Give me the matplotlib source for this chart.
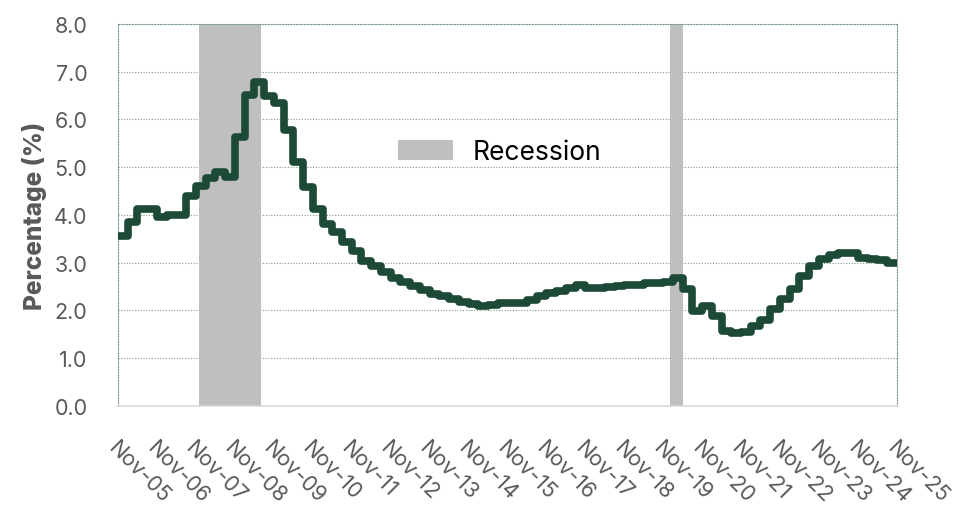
import numpy as np
import pandas as pd
import matplotlib
matplotlib.use('Agg')
import matplotlib.pyplot as plt
import matplotlib.dates as mdates
from matplotlib.patches import Patch

# Quarterly rate, Nov 2005 through Aug 2025 (each value holds for 3 months)
rate = [
    3.55, 3.85, 4.12, 4.12, 3.95, 3.99, 4.01, 4.40,   # Nov05 - Aug07
    4.60, 4.77, 4.89, 4.79, 5.63, 6.51, 6.78, 6.50,   # Nov07 - Aug09
    6.34, 5.78, 5.10, 4.58, 4.12, 3.81, 3.64, 3.43,   # Nov09 - Aug11
    3.25, 3.04, 2.93, 2.80, 2.69, 2.60, 2.51, 2.42,   # Nov11 - Aug13
    2.35, 2.30, 2.24, 2.18, 2.14, 2.10, 2.12, 2.15,   # Nov13 - Aug15
    2.16, 2.15, 2.22, 2.30, 2.37, 2.40, 2.47, 2.53,   # Nov15 - Aug17
    2.47, 2.48, 2.49, 2.51, 2.53, 2.54, 2.57, 2.58,   # Nov17 - Aug19
    2.60, 2.68, 2.45, 1.98, 2.09, 1.88, 1.58, 1.52,   # Nov19 - Aug21
    1.54, 1.67, 1.81, 2.03, 2.24, 2.45, 2.73, 2.94,   # Nov21 - Aug23
    3.08, 3.16, 3.21, 3.20, 3.09, 3.07, 3.05, 2.99,   # Nov23 - Aug25
]
quarter_edges = pd.date_range('2005-11-01', '2025-11-01', freq='3MS')

recession_start = ['2007-12-01', '2020-01-01']
recession_end = ['2009-07-01', '2020-04-30']

tick_dates = pd.date_range('2005-11-01', '2025-11-01', freq='12MS')

line_color = '#1d4a37'
text_gray = '#595959'
grid_color = '#7f9a8c'
plt.rcParams['font.family'] = ['Inter', 'DejaVu Sans']

fig = plt.figure(figsize=(9.62, 5.06), dpi=100)
ax = fig.add_axes([0.1227, 0.1957, 0.8097, 0.7549])

for s, e in zip(recession_start, recession_end):
    ax.axvspan(pd.Timestamp(s), pd.Timestamp(e), color='#bfbfbf', lw=0, zorder=1)

ax.stairs(rate, mdates.date2num(quarter_edges), color=line_color, linewidth=5.5,
          baseline=None, joinstyle='round', zorder=3)

ax.set_xlim(mdates.date2num(quarter_edges[0]), mdates.date2num(quarter_edges[-1]))
ax.set_ylim(0, 8)
ax.set_yticks(np.arange(0, 8.5, 1.0))
ax.set_yticklabels([f'{v:.1f}' for v in np.arange(0, 8.5, 1.0)])
ax.set_xticks(mdates.date2num(tick_dates))
ax.set_xticklabels([d.strftime('%b-%y') for d in tick_dates], rotation=-45,
                   ha='left', va='top', rotation_mode='anchor')

ax.yaxis.grid(True, color=grid_color, linestyle=(0, (1, 1.5)), linewidth=0.8, zorder=0)
ax.set_axisbelow(True)
for side in ['left', 'right', 'top']:
    ax.spines[side].set_color(grid_color)
    ax.spines[side].set_linestyle((0, (1, 1.5)))
    ax.spines[side].set_linewidth(0.8)
ax.spines['bottom'].set_color('#d9d9d9')
ax.spines['bottom'].set_linewidth(1.2)

ax.tick_params(axis='both', length=0, labelsize=15.5, colors=text_gray)
ax.tick_params(axis='y', pad=22)
ax.tick_params(axis='x', pad=22)

ax.set_ylabel('Percentage (%)', fontsize=17.5, fontweight='heavy', color=text_gray, labelpad=5)

ax.legend(handles=[Patch(facecolor='#bfbfbf', edgecolor='none', label='Recession')],
          loc='center', bbox_to_anchor=(0.49, 0.665), frameon=False, fontsize=19,
          handlelength=2.1, handleheight=0.8, handletextpad=0.75)

fig.savefig('out.png', dpi=100)
